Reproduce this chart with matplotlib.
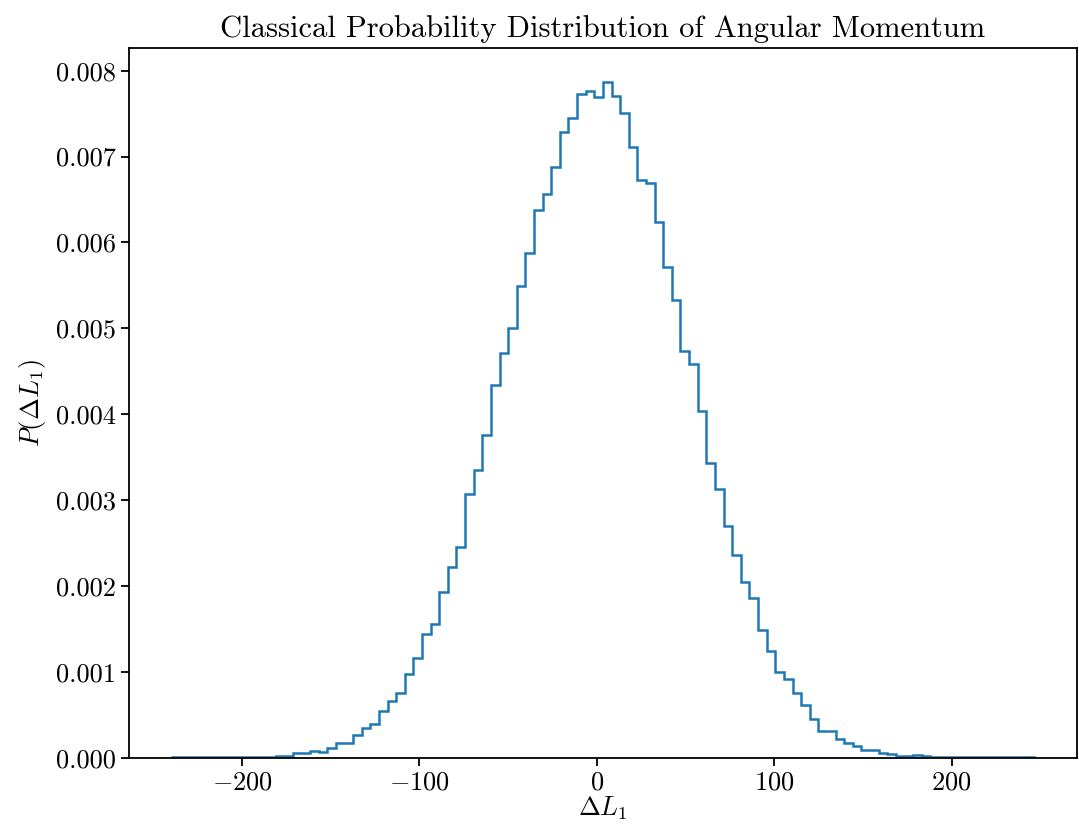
import numpy as np
import matplotlib
matplotlib.use("Agg")
from matplotlib import pyplot as plt

# histogram range and bin heights (density)
lo, hi = -239.4, 246.3
n_bins = 100

density = [
    0.000007, 0.000007, 0.000007, 0.000007, 0.000008, 0.000008, 0.000008, 0.000009, 0.000009,
    0.000015, 0.000015, 0.000017, 0.000023, 0.000028, 0.000058, 0.000060,
    0.000077, 0.000070, 0.000116, 0.000175, 0.000175, 0.000263, 0.000349, 0.000400,
    0.000542, 0.000664, 0.000757, 0.000980, 0.001164, 0.001447, 0.001563,
    0.001928, 0.002219, 0.002452, 0.003077, 0.003353, 0.003764, 0.004342, 0.004715,
    0.005009, 0.005498, 0.005879, 0.006380, 0.006566, 0.006876, 0.007291, 0.007450,
    0.007730, 0.007765, 0.007698, 0.007870, 0.007702, 0.007504, 0.007108, 0.006732,
    0.006689, 0.006243, 0.005719, 0.005335, 0.004741, 0.004582, 0.004043, 0.003434,
    0.003135, 0.002704, 0.002363, 0.002052, 0.001865, 0.001490, 0.001249, 0.001001,
    0.000920, 0.000757, 0.000612, 0.000458, 0.000318, 0.000318, 0.000221, 0.000175,
    0.000143, 0.000093, 0.000093, 0.000062, 0.000047, 0.000023, 0.000020, 0.000030,
    0.000020, 0.000012, 0.000011, 0.000010, 0.000010, 0.000009, 0.000009, 0.000008,
    0.000008, 0.000008, 0.000007, 0.000007, 0.000007,
]

plt.rcParams["font.family"] = "serif"
plt.rcParams["font.serif"] = ["cmr10", "DejaVu Serif"]
plt.rcParams["mathtext.fontset"] = "cm"
plt.rcParams["axes.formatter.use_mathtext"] = True
plt.rcParams["font.size"] = 19
plt.rcParams["axes.linewidth"] = 1.3
plt.rcParams["xtick.major.size"] = 6
plt.rcParams["ytick.major.size"] = 6
plt.rcParams["xtick.major.width"] = 1.3
plt.rcParams["ytick.major.width"] = 1.3

edges = np.linspace(lo, hi, n_bins + 1)

fig = plt.figure(figsize=(10.79, 8.35), dpi=100)
ax = fig.add_axes([0.1196, 0.0922, 0.8784, 0.8503])

ax.hist(edges[:-1], bins=edges, weights=density, histtype="step", color="tab:blue", linewidth=1.8)

ax.set_title("Classical Probability Distribution of Angular Momentum", fontsize=22, pad=8)
ax.set_xlabel(r"$\Delta L_1$", labelpad=0)
ax.set_ylabel(r"$P(\Delta L_1)$", labelpad=6)
ax.set_ylim(0, None)
ax.set_yticks(np.arange(0, 0.0081, 0.001))
ax.yaxis.set_major_formatter(matplotlib.ticker.FormatStrFormatter("%.3f"))

fig.savefig("out.png", dpi=100)
